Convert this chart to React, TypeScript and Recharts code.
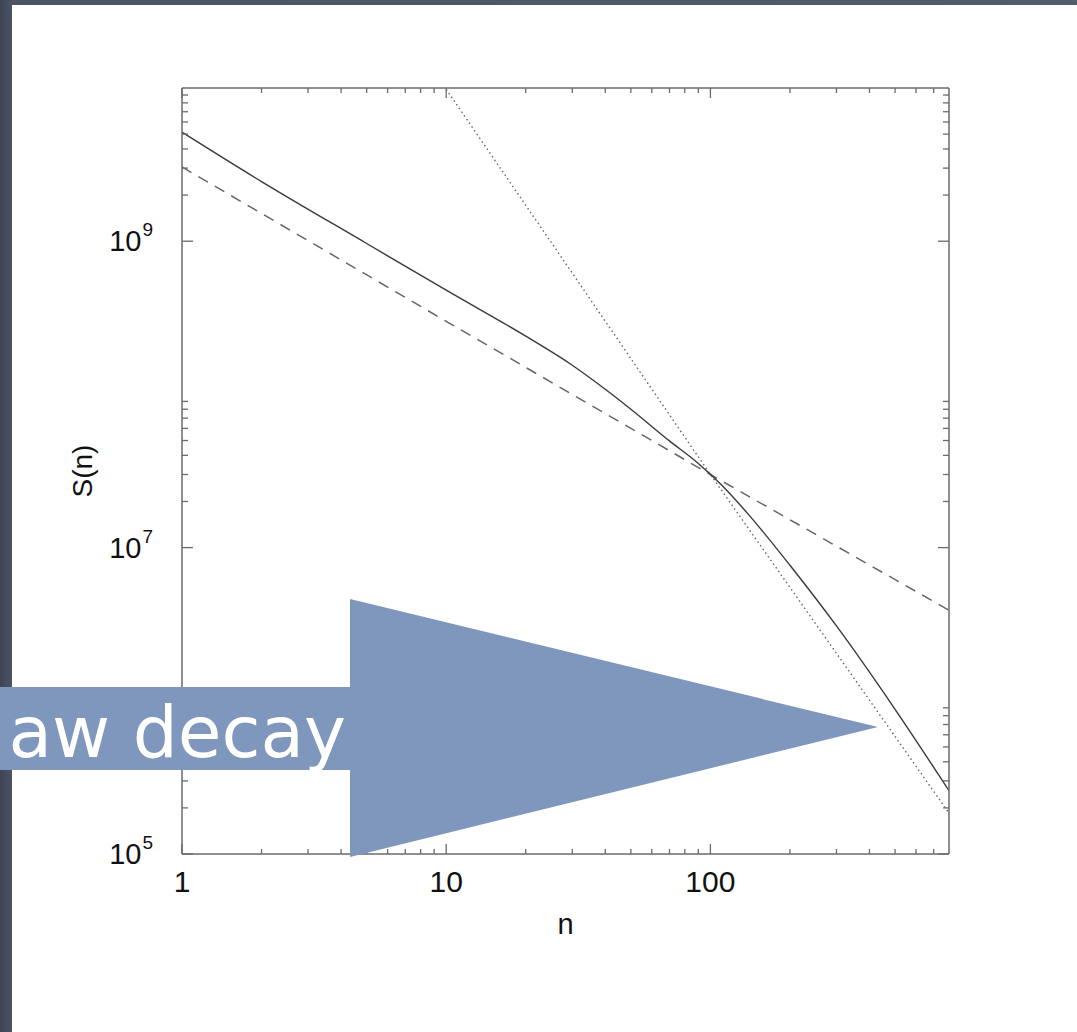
import { LineChart, Line, XAxis, YAxis } from 'recharts';

// solid curve S(n)
const N_SOLID = [1, 2, 5, 10, 20, 30, 40, 50, 70, 90, 110, 140, 200, 300, 500, 800];
const S_SOLID = [5.15e9, 2.45e9, 9.66e8, 4.79e8, 2.4e8, 1.55e8, 1.08e8, 8.0e7, 4.97e7, 3.54e7, 2.57e7, 1.63e7, 7.67e6, 3.08e6, 8.8e5, 2.59e5];

// dashed reference
const N_DASHED = [1, 10, 100, 800];
const S_DASHED = [3.05e9, 3.0e8, 3.0e7, 3.9e6];

// dotted reference
const N_DOTTED = [10, 100, 800];
const S_DOTTED = [9.8e9, 3.0e7, 1.85e5];

const X_TICKS = [1, 2, 3, 4, 5, 6, 7, 8, 9, 10, 20, 30, 40, 50, 60, 70, 80, 90, 100, 200, 300, 400, 500, 600, 700];
const X_MAJOR = [1, 10, 100];
const Y_TICKS = [
  1e5, 2e5, 3e5, 4e5, 5e5, 6e5, 7e5, 8e5, 9e5,
  1e7, 2e7, 3e7, 4e7, 5e7, 6e7, 7e7, 8e7, 9e7,
  1e9, 2e9, 3e9, 4e9, 5e9, 6e9, 7e9, 8e9, 9e9,
];
const Y_MAJOR = [1e5, 1e7, 1e9];
const Y_EXP = ['5', '7', '9'];

const solid = N_SOLID.map((n, i) => ({ n, s: S_SOLID[i] }));
const dashed = N_DASHED.map((n, i) => ({ n, s: S_DASHED[i] }));
const dotted = N_DOTTED.map((n, i) => ({ n, s: S_DOTTED[i] }));

const AXIS = '#6a6a6a';
const FONT = '"Liberation Sans", Arial, Helvetica, sans-serif';

const BottomTick = (p: any) => {
  const { x, y, payload } = p;
  const major = X_MAJOR.includes(payload.value);
  return (
    <g>
      <line x1={x} y1={y} x2={x} y2={y - (major ? 10 : 5)} stroke={AXIS} strokeWidth={1.3} />
      {major && (
        <text x={x} y={y + 38} textAnchor="middle" fontSize={30} fill="#111" fontFamily={FONT}>
          {payload.value}
        </text>
      )}
    </g>
  );
};

const TopTick = (p: any) => {
  const { x, y, payload } = p;
  const major = X_MAJOR.includes(payload.value);
  return <line x1={x} y1={y} x2={x} y2={y + (major ? 10 : 5)} stroke={AXIS} strokeWidth={1.3} />;
};

const LeftTick = (p: any) => {
  const { x, y, payload } = p;
  const k = Y_MAJOR.indexOf(payload.value);
  return (
    <g>
      <line x1={x} y1={y} x2={x + (k >= 0 ? 11 : 6)} y2={y} stroke={AXIS} strokeWidth={1.3} />
      {k >= 0 && (
        <text x={x - 29} y={y + 10} textAnchor="end" fontSize={29} fill="#111" fontFamily={FONT}>
          10<tspan fontSize={19} dx={1} dy={-15}>{Y_EXP[k]}</tspan>
        </text>
      )}
    </g>
  );
};

const RightTick = (p: any) => {
  const { x, y, payload } = p;
  const major = Y_MAJOR.includes(payload.value);
  return <line x1={x} y1={y} x2={x - (major ? 11 : 6)} y2={y} stroke={AXIS} strokeWidth={1.3} />;
};

const YLabel = (p: any) => {
  const { viewBox } = p;
  const cx = viewBox.x + viewBox.width - 100;
  const cy = viewBox.y + viewBox.height / 2;
  return (
    <text x={cx} y={cy} transform={`rotate(-90 ${cx} ${cy})`} textAnchor="middle" dominantBaseline="central"
      fontSize={28} fill="#111" fontFamily={FONT}>
      S(n)
    </text>
  );
};

export default function App() {
  return (
    <div style={{ position: 'absolute', left: 0, top: 0, width: 1077, height: 1032, overflow: 'hidden', background: 'linear-gradient(90deg, #3d4555 0px, #4b5365 12px, #535b6c 100%)' }}>
      <div style={{ position: 'absolute', left: 12, top: 5, width: 1065, height: 1027, background: '#fff' }}>
        <LineChart width={1065} height={1027} data={solid} margin={{ top: 73, right: 118, bottom: 100, left: 20 }}>
          <XAxis xAxisId="b" dataKey="n" type="number" scale="log" domain={[1, 800]} allowDataOverflow
            ticks={X_TICKS} interval={0} tickSize={0} tickMargin={0} tickLine={false} tick={<BottomTick />}
            height={78} stroke={AXIS} strokeWidth={1.5}
            label={{ value: 'n', position: 'insideBottom', offset: -2, fontSize: 29, fill: '#111', fontFamily: FONT }} />
          <XAxis xAxisId="t" orientation="top" dataKey="n" type="number" scale="log" domain={[1, 800]} allowDataOverflow
            ticks={X_TICKS} interval={0} tickSize={0} tickMargin={0} tickLine={false} tick={<TopTick />}
            height={10} stroke={AXIS} strokeWidth={1.5} />
          <YAxis yAxisId="l" type="number" scale="log" domain={[1e5, 1e10]} allowDataOverflow
            ticks={Y_TICKS} interval={0} tickSize={0} tickMargin={0} tickLine={false} tick={<LeftTick />}
            width={150} stroke={AXIS} strokeWidth={1.5} label={<YLabel />} />
          <YAxis yAxisId="r" orientation="right" type="number" scale="log" domain={[1e5, 1e10]} allowDataOverflow
            ticks={Y_TICKS} interval={0} tickSize={0} tickMargin={0} tickLine={false} tick={<RightTick />}
            width={10} stroke={AXIS} strokeWidth={1.5} />
          <Line xAxisId="b" yAxisId="l" data={dotted} dataKey="s" type="linear" stroke="#666" strokeWidth={1.4}
            strokeDasharray="1.5 3" dot={false} isAnimationActive={false} />
          <Line xAxisId="b" yAxisId="l" data={dashed} dataKey="s" type="linear" stroke="#666" strokeWidth={1.5}
            strokeDasharray="11 8" dot={false} isAnimationActive={false} />
          <Line xAxisId="b" yAxisId="l" data={solid} dataKey="s" type="monotone" stroke="#3a3a3a" strokeWidth={1.4}
            dot={false} isAnimationActive={false} />
        </LineChart>
      </div>
      <svg width={1077} height={1032} style={{ position: 'absolute', left: 0, top: 0, pointerEvents: 'none' }}>
        <polygon points="0,687 350,687 350,599 878,727 350,857 350,770 0,770" fill="#7f96bd" />
        <text x={346} y={757} textAnchor="end" fontSize={71} fill="#fff" fontFamily='"DejaVu Sans", sans-serif'>
          aw decay
        </text>
      </svg>
    </div>
  );
}
